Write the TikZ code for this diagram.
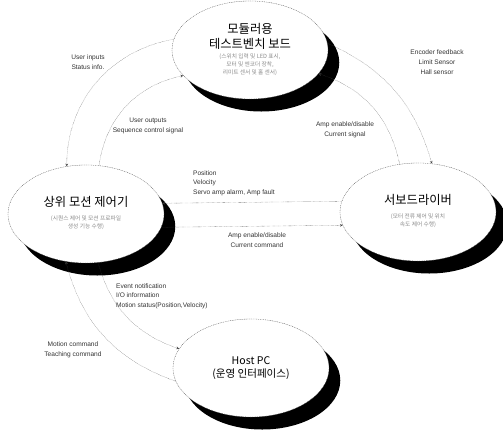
\documentclass[tikz,border=0pt]{standalone}
\usepackage{fontspec}
\setmainfont{Liberation Sans}
\newfontfamily\kor{Noto Sans CJK KR}
\usetikzlibrary{shapes.geometric,shadows}

\newcommand{\subtxt}[1]{{\fontsize{6.5}{9}\selectfont\color{black!45}\begin{tabular}{@{}c@{}}#1\end{tabular}}}

\begin{document}
\begin{tikzpicture}[
    x=0.04cm, y=0.04cm,
    blob/.style={
        ellipse, fill=white,
        draw=black!70, dash pattern=on 1pt off 1pt,
        minimum width=6.24cm,      % all four ellipses the same size
        minimum height=3.92cm,
        inner sep=0pt, align=center,
        font=\kor\fontsize{14}{17}\selectfont,
        drop shadow={shadow xshift=0.45cm, shadow yshift=-0.5cm, fill=black, opacity=1}
    },
    note/.style={font=\fontsize{7.5}{11}\selectfont, align=center, text=black!80},
    arrow/.style={->, >=stealth, densely dotted, black!75}
]
\useasboundingbox (0,0) rectangle (503,430);

% --- the four blocks ---
\node[blob] (board) at (250,380) {모듈러용\\테스트벤치 보드\\[3pt]\subtxt{(스위치 입력 및 LED 표시,\\모터 및 엔코더 장착,\\리미트 센서 및 홀 센서)}};
\node[blob] (ctrl) at (86,216) {상위 모션 제어기\\[3pt]\subtxt{(시퀀스 제어 및 모션 프로파일\\생성 기능 수행)}};
\node[blob] (drv) at (418,218) {서보드라이버\\[3pt]\subtxt{(모터 전류 제어 및 위치\\속도 제어 수행)}};
\node[blob, font=\kor\fontsize{12}{15}\selectfont] (host) at (251,62) {Host PC\\(운영 인터페이스)};

% --- labels ---
\node[note] (inlbl) at (88,368) {User inputs\\Status info.};
\node[note] (outlbl) at (148,304) {User outputs\\Sequence control signal};
\node[note] (enclbl) at (437,368) {Encoder feedback\\Limit Sensor\\Hall sensor};
\node[note] (amplbl) at (345,300) {Amp enable/disable\\Current signal};
\node[note, align=left, anchor=south west] (poslbl) at (190,231) {Position\\Velocity\\Servo amp alarm, Amp fault};
\node[note] (cmdlbl) at (257,190) {Amp enable/disable\\Current command};
\node[note, align=left, anchor=west] (evtlbl) at (113,134) {Event notification\\I/O information\\Motion status(Position,Velocity)};
\node[note] (motlbl) at (73,80) {Motion command\\Teaching command};

% --- connectors ---
\draw[arrow] (board.172) to[bend right=40] (ctrl.112);
\draw[arrow] (ctrl.75) to[bend left=35] (board.201);
\draw[arrow] (board.5) to[bend left=25] (drv.74);
\draw[arrow] (drv.111) to[bend right=30] (board.-19);
\draw[arrow] (drv.172) -- (ctrl.8);
\draw[arrow] (ctrl.-10) -- (drv.190);
\draw[arrow] (ctrl.-76) to[bend right=28] (host.165);
\draw[arrow] (host.190) to[bend left=28] (ctrl.247);

\end{tikzpicture}
\end{document}
